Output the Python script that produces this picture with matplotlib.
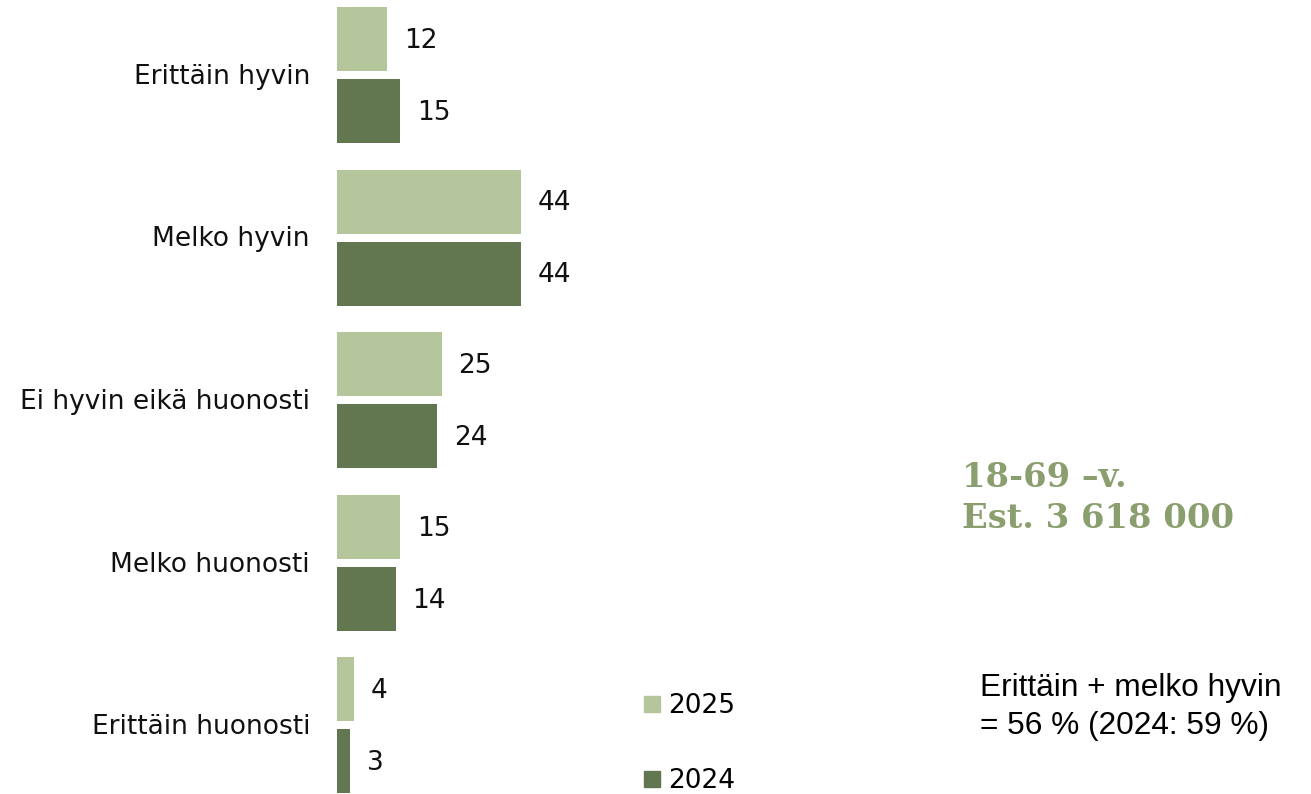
import matplotlib
matplotlib.use("Agg")
import matplotlib.pyplot as plt
from matplotlib.lines import Line2D

categories = ["Erittäin hyvin", "Melko hyvin", "Ei hyvin eikä huonosti", "Melko huonosti", "Erittäin huonosti"]
values_2025 = [12, 44, 25, 15, 4]
values_2024 = [15, 44, 24, 14, 3]
series_labels = ["2025", "2024"]

col_2025 = "#b5c59c"
col_2024 = "#627650"
accent = "#8a9e6e"

W, H = 1311, 794
pitch = 162.5
fig = plt.figure(figsize=(W / 100, H / 100), dpi=100)
ax = fig.add_axes([337 / W, 0, 600 / W, 1])
ax.set_xlim(0, 600 / 4.18)
ax.set_ylim((H - 75) / pitch, -75 / pitch)
ax.axis("off")

bh = 64 / pitch
off = 36 / pitch
pos = list(range(len(categories)))
b1 = ax.barh([p - off for p in pos], values_2025, height=bh, color=col_2025, label=series_labels[0])
b2 = ax.barh([p + off for p in pos], values_2024, height=bh, color=col_2024, label=series_labels[1])

fs = 19
for bars, vals in ((b1, values_2025), (b2, values_2024)):
    for rect, v in zip(bars, vals):
        ax.annotate(str(v), (rect.get_width(), rect.get_y() + rect.get_height() / 2),
                    xytext=(17, -2), textcoords="offset pixels", ha="left", va="center",
                    fontsize=fs, family="DejaVu Sans", color="#111111")

for p, c in zip(pos, categories):
    ax.annotate(c, (0, p), xytext=(-27, -2), textcoords="offset pixels", ha="right", va="center",
                fontsize=fs, family="DejaVu Sans", color="#111111", annotation_clip=False)

handles = [Line2D([], [], marker="s", linestyle="none", markersize=11, color=col_2025),
           Line2D([], [], marker="s", linestyle="none", markersize=11, color=col_2024)]
fig.legend(handles, series_labels, loc="upper left", bbox_to_anchor=(644 / W, 1 - 693 / H),
           frameon=False, prop={"family": "DejaVu Sans", "size": fs}, labelspacing=1.85,
           handlelength=0.6, handletextpad=0.3, borderpad=0, borderaxespad=0)

fig.text(962 / W, 1 - 498 / H, "18-69 –v.\nEst. 3 618 000", ha="left", va="center",
         fontsize=24.3, family="DejaVu Serif", fontweight="bold", color=accent, linespacing=1.3)
fig.text(980 / W, 1 - 707 / H, "Erittäin + melko hyvin\n= 56 % (2024: 59 %)", ha="left", va="center",
         fontsize=22.8, family="Liberation Sans", color="#000000", linespacing=1.35)

fig.savefig("out.png", dpi=100)
